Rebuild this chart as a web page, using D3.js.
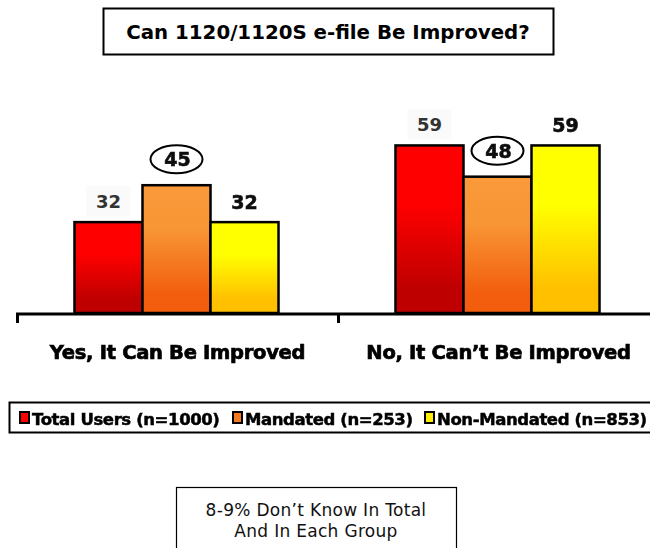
<!DOCTYPE html>
<html><head><meta charset="utf-8">
<script src="https://cdn.jsdelivr.net/npm/d3@7"></script>
<style>
html,body{margin:0;padding:0;background:#fff;}
svg{display:block;}
</style></head>
<body><svg id="c" width="650" height="548"></svg>
<script>
const title = "Can 1120/1120S e-file Be Improved?";
const categories = ["Yes, It Can Be Improved", "No, It Can\u2019t Be Improved"];
const series = ["Total Users (n=1000)", "Mandated (n=253)", "Non-Mandated (n=853)"];
const totalUsers = [32, 59];
const mandated = [45, 48];
const nonMandated = [32, 59];
const footnote = ["8-9% Don\u2019t Know In Total", "And In Each Group"];

const values = [totalUsers, mandated, nonMandated];
const svg = d3.select("#c");
const defs = svg.append("defs");
const grads = [
  ["gRed", "#ff0000", "#ff0000", "#bf0000"],
  ["gOrange", "#fa9a3a", "#f89535", "#f25e0e"],
  ["gYellow", "#ffff00", "#ffff00", "#ffc000"]
];
grads.forEach(([id, c0, c1, c2]) => {
  const g = defs.append("linearGradient").attr("id", id).attr("x1", 0).attr("y1", 0).attr("x2", 0).attr("y2", 1);
  g.append("stop").attr("offset", "0%").attr("stop-color", c0);
  g.append("stop").attr("offset", "35%").attr("stop-color", c1);
  g.append("stop").attr("offset", "85%").attr("stop-color", c2);
  g.append("stop").attr("offset", "100%").attr("stop-color", c2);
});
const flt = defs.append("filter").attr("id", "smear");
flt.append("feGaussianBlur").attr("stdDeviation", 0.5);

const x0 = d3.scaleBand().domain(categories).range([16, 658]);
const x1 = d3.scaleBand().domain(series).range([0, x0.bandwidth()]).paddingOuter(0.86);
const y = d3.scaleLinear().domain([0, 100]).range([313, 29]);

// Title box
svg.append("rect").attr("x", 103.5).attr("y", 8.5).attr("width", 450).attr("height", 46)
  .attr("fill", "#fff").attr("stroke", "#000").attr("stroke-width", 2);
svg.append("text").attr("x", 328).attr("y", 39).attr("text-anchor", "middle")
  .attr("font-family", "DejaVu Sans").attr("font-weight", "bold").attr("font-size", 19.8)
  .text(title);

// Bars
const fills = ["url(#gRed)", "url(#gOrange)", "url(#gYellow)"];
const groups = svg.append("g").selectAll("g").data(categories).join("g")
  .attr("transform", d => `translate(${x0(d)},0)`);
groups.each(function(cat, ci) {
  const g = d3.select(this);
  series.forEach((s, si) => {
    const v = values[si][ci];
    g.append("rect").attr("x", x1(s)).attr("y", y(v)).attr("width", x1.bandwidth()).attr("height", y(0) - y(v))
      .attr("fill", fills[si]).attr("stroke", "#000").attr("stroke-width", 2.5);
  });
  series.forEach((s, si) => {
    const v = values[si][ci];
    const cx = x1(s) + x1.bandwidth() / 2;
    if (si === 1) {
      const yy = y(v) - 26;
      g.append("ellipse").attr("cx", cx).attr("cy", yy).attr("rx", 26).attr("ry", 14)
        .attr("fill", "#fff").attr("stroke", "#000").attr("stroke-width", 2);
      g.append("text").attr("x", cx + 1).attr("y", yy + 7).attr("text-anchor", "middle")
        .attr("font-family", "DejaVu Sans").attr("font-weight", "bold").attr("font-size", 19)
        .attr("fill", "#111").attr("stroke", "#111").attr("stroke-width", 0.6)
        .attr("filter", "url(#smear)").text(v);
    } else {
      const ty = y(v) - 14;
      if (si === 0) {
        g.append("rect").attr("x", cx - 22).attr("y", ty - 22).attr("width", 44).attr("height", 30).attr("fill", "#fafafa");
        g.append("text").attr("x", cx).attr("y", ty).attr("text-anchor", "middle")
          .attr("font-family", "DejaVu Sans").attr("font-weight", "bold").attr("font-size", 18)
          .attr("fill", "#333").text(v);
      } else {
        g.append("text").attr("x", cx).attr("y", ty + 1).attr("text-anchor", "middle")
          .attr("font-family", "DejaVu Sans").attr("font-weight", "bold").attr("font-size", 19)
          .attr("fill", "#111").attr("stroke", "#111").attr("stroke-width", 0.6)
          .attr("filter", "url(#smear)").text(v);
      }
    }
  });
});

// Axis
const ax = svg.append("g");
ax.append("line").attr("x1", x0.range()[0]).attr("x2", 650).attr("y1", y(0) + 1).attr("y2", y(0) + 1)
  .attr("stroke", "#000").attr("stroke-width", 3);
ax.selectAll("line.tick").data(categories).join("line").attr("class", "tick")
  .attr("x1", d => x0(d) + 1.5).attr("x2", d => x0(d) + 1.5).attr("y1", y(0)).attr("y2", y(0) + 10)
  .attr("stroke", "#000").attr("stroke-width", 3);
ax.selectAll("text").data(categories).join("text")
  .attr("x", d => x0(d) + x0.bandwidth() / 2 + 1).attr("y", 359)
  .attr("text-anchor", "middle").attr("font-family", "DejaVu Sans").attr("font-weight", "bold")
  .attr("font-size", 19.5).attr("letter-spacing", -0.3)
  .attr("stroke", "#000").attr("stroke-width", 0.7)
  .attr("filter", "url(#smear)").text(d => d);

// Legend
svg.append("rect").attr("x", 9.5).attr("y", 402.5).attr("width", 650).attr("height", 30)
  .attr("fill", "#fff").attr("stroke", "#000").attr("stroke-width", 2);
const legX = [20, 233, 425];
const legColors = ["#ff0000", "#f57a1f", "#ffee00"];
series.forEach((s, i) => {
  svg.append("rect").attr("x", legX[i]).attr("y", 412).attr("width", 9).attr("height", 11)
    .attr("fill", legColors[i]).attr("stroke", "#000").attr("stroke-width", 2);
  svg.append("text").attr("x", legX[i] + 12).attr("y", 424.5).attr("font-family", "DejaVu Sans")
    .attr("font-weight", "bold").attr("font-size", 16.5).attr("letter-spacing", -0.4)
    .attr("stroke", "#000").attr("stroke-width", 0.5)
    .attr("filter", "url(#smear)").text(s);
});

// Footnote
svg.append("rect").attr("x", 176.5).attr("y", 487.5).attr("width", 280).attr("height", 70)
  .attr("fill", "#fff").attr("stroke", "#000").attr("stroke-width", 1.2);
svg.selectAll("text.fn").data(footnote).join("text").attr("class", "fn")
  .attr("x", 316).attr("y", (d, i) => 516 + i * 21).attr("text-anchor", "middle")
  .attr("font-family", "DejaVu Sans").attr("font-size", 17).attr("letter-spacing", 0.3)
  .attr("fill", "#111").text(d => d);
</script></body></html>
